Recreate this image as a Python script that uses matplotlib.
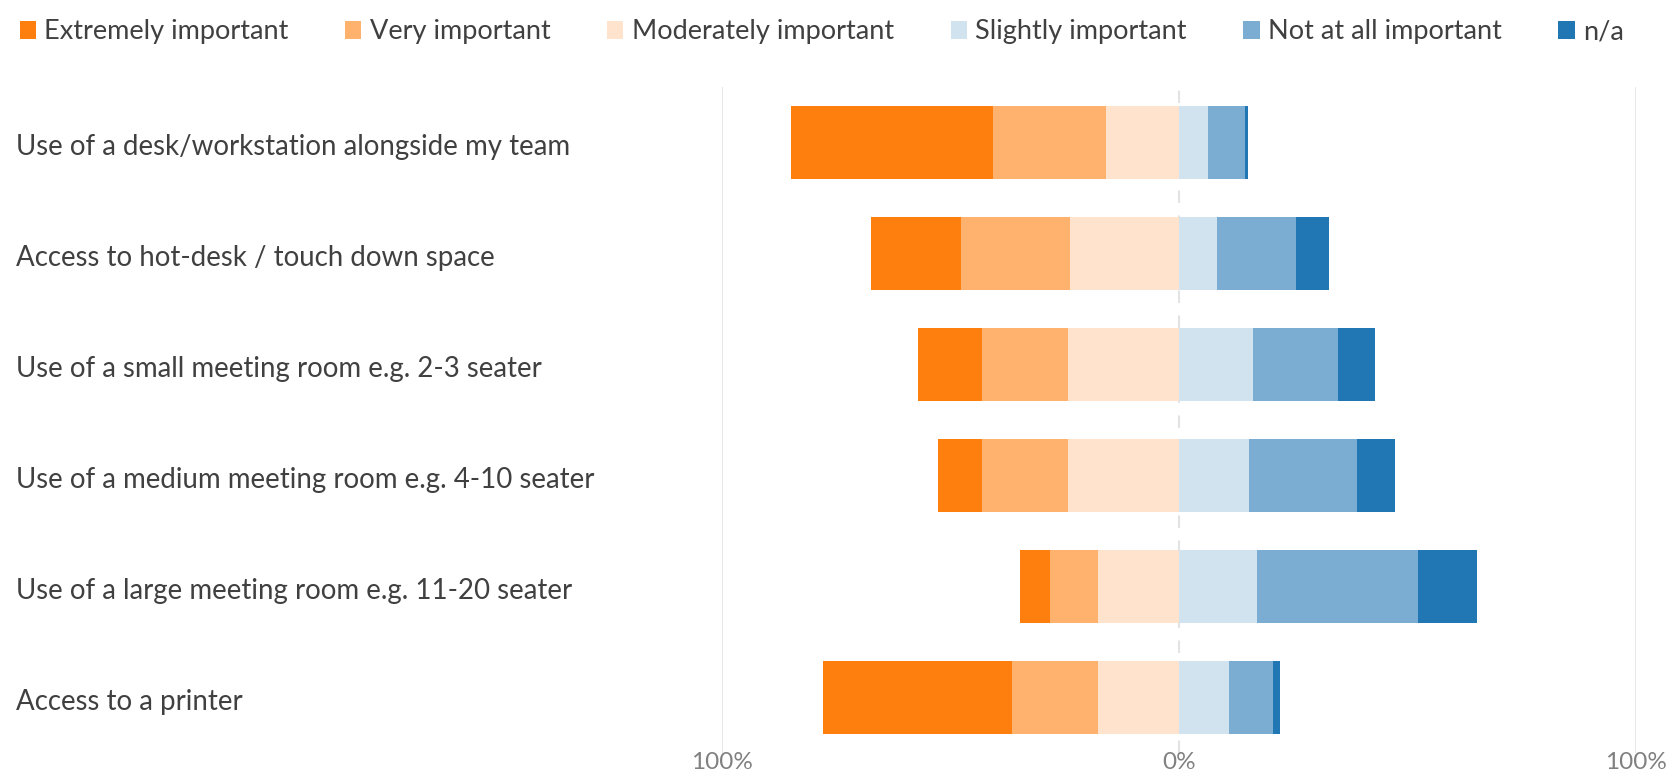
import numpy as np
import matplotlib.pyplot as plt
from matplotlib.patches import Patch
from matplotlib.transforms import blended_transform_factory

questions = [
    "Use of a desk/workstation alongside my team",
    "Access to hot-desk / touch down space",
    "Use of a small meeting room e.g. 2-3 seater",
    "Use of a medium meeting room e.g. 4-10 seater",
    "Use of a large meeting room e.g. 11-20 seater",
    "Access to a printer",
]
levels = ["Extremely important", "Very important", "Moderately important",
          "Slightly important", "Not at all important", "n/a"]

# percentages of responses per question
extremely = [44.4, 19.8, 14.0, 9.6, 6.5, 41.3]
very = [24.7, 23.7, 18.9, 18.9, 10.5, 18.9]
moderately = [15.9, 23.9, 24.2, 24.2, 17.8, 17.7]
slightly = [6.3, 8.4, 16.1, 15.4, 17.0, 11.0]
not_at_all = [8.1, 17.1, 18.6, 23.5, 35.3, 9.6]
na = [0.6, 7.4, 8.2, 8.4, 12.9, 1.5]

colors = ["#ff7f0e", "#ffb26e", "#ffe3cd", "#d2e3f0", "#7badd3", "#2077b4"]

plt.rcParams["font.family"] = ["Lato", "DejaVu Sans"]

fig = plt.figure(figsize=(16.7, 7.76), dpi=100)
ax = fig.add_axes([722 / 1670, 1 - 753 / 776, 914 / 1670, 666 / 776])

y = np.arange(len(questions))
h = 0.66

# negative side: moderately next to zero, extremely furthest out
left_parts = [moderately, very, extremely]
left_cols = [colors[2], colors[1], colors[0]]
start = np.zeros(len(questions))
for vals, c in zip(left_parts, left_cols):
    vals = np.array(vals)
    ax.barh(y, -vals, left=-start, height=h, color=c, linewidth=0)
    start += vals

right_parts = [slightly, not_at_all, na]
right_cols = colors[3:]
start = np.zeros(len(questions))
for vals, c in zip(right_parts, right_cols):
    vals = np.array(vals)
    ax.barh(y, vals, left=start, height=h, color=c, linewidth=0)
    start += vals

ax.axvline(0, color="#e3e3e3", lw=1.5, ls=(0, (6, 6)), zorder=0)
for x in (-100, 100):
    ax.axvline(x, color="#e3e3e3", lw=1.2, zorder=0)

ax.set_xlim(-100, 100)
ax.set_ylim(len(questions) - 0.5, -0.5)
ax.set_xticks([-100, 0, 100])
ax.set_xticklabels(["100%", "0%", "100%"], color="#808080", fontsize=17.5)
ax.tick_params(axis="x", length=0, pad=-1)
ax.set_yticks([])
for s in ax.spines.values():
    s.set_visible(False)

trans = blended_transform_factory(fig.transFigure, ax.transData)
for i, q in enumerate(questions):
    ax.text(16 / 1670, i + 0.04, q, transform=trans, ha="left", va="center",
            fontsize=19.9, color="#404040")

handles = [Patch(facecolor=c, edgecolor="none") for c in colors]
fig.legend(handles, levels, loc="upper left", bbox_to_anchor=(0.0, 1.0),
           ncol=6, frameon=False, fontsize=19.5, labelcolor="#404040",
           handlelength=0.6, handleheight=0.6, handletextpad=0.3,
           columnspacing=2.1, borderaxespad=0.32)

fig.savefig("out.png", dpi=100)
